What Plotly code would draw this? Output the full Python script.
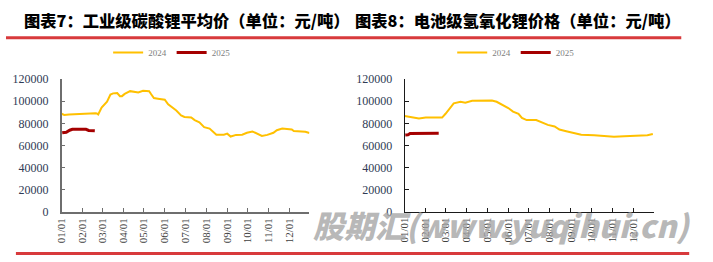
import plotly.graph_objects as go
import pandas as pd

W, H = 713, 262

# ---------------- data ----------------
months = ["01/01", "02/01", "03/01", "04/01", "05/01", "06/01",
          "07/01", "08/01", "09/01", "10/01", "11/01", "12/01"]

# Chart 7: industrial-grade lithium carbonate average price (yuan/t)
c7_2024_dates = ["01-01", "01-05", "01-12", "01-19", "01-26", "02-02", "02-09", "02-20", "02-22", "02-24",
                 "02-29", "03-08", "03-13", "03-17", "03-23", "03-27", "03-30", "04-03", "04-11", "04-18",
                 "04-23", "04-30", "05-09", "05-12", "05-16", "05-22", "06-01", "06-06", "06-13", "06-18",
                 "06-25", "06-30", "07-10", "07-15", "07-22", "07-29", "08-06", "08-10", "08-16", "08-27",
                 "09-01", "09-06", "09-14", "09-23", "09-30", "10-08", "10-15", "10-22", "10-30", "11-08",
                 "11-13", "11-21", "11-28", "12-05", "12-08", "12-17", "12-25", "12-31"]
c7_2024_vals = [88600, 87600, 88000, 88200, 88800, 89000, 89000, 89000, 88900, 88000,
                94300, 99400, 105900, 107000, 107300, 104500, 104500, 106500, 109000, 108500,
                107900, 109300, 109000, 106200, 102800, 102200, 101300, 97100, 94300, 91500,
                87200, 85800, 85200, 82900, 80900, 76600, 75300, 73200, 69800, 69800,
                70700, 68100, 69600, 69800, 71500, 72700, 71000, 68700, 69600, 71500,
                73800, 75300, 74900, 74400, 73000, 72400, 72400, 71300]
c7_2025_dates = ["01-02", "01-08", "01-13", "01-17", "01-24", "02-06", "02-10", "02-19"]
c7_2025_vals = [71500, 72000, 73800, 74600, 74700, 74600, 73600, 73300]

# Chart 8: battery-grade lithium hydroxide price (yuan/t)
c8_2024_dates = ["01-01", "01-13", "01-22", "02-01", "02-25", "03-01", "03-08", "03-13", "03-23", "03-30",
                 "04-09", "04-23", "05-08", "05-15", "05-22", "06-01", "06-08", "06-16", "06-21", "06-28",
                 "07-12", "07-20", "07-29", "08-08", "08-15", "08-25", "09-06", "09-16", "10-05", "10-20",
                 "11-03", "11-18", "12-02", "12-22", "12-30"]
c8_2024_vals = [86600, 85700, 84400, 85200, 85200, 88600, 94300, 98000, 99400, 98600,
                100300, 100600, 100600, 99400, 97200, 93800, 90600, 88600, 84900, 82900,
                82900, 80900, 78600, 77200, 74400, 72900, 71500, 69800, 69200, 68600,
                67800, 68400, 69000, 69200, 70300]
c8_2025_dates = ["01-02", "01-06", "01-09", "01-20", "02-10", "02-20"]
c8_2025_vals = [69500, 69700, 70800, 70900, 71000, 71000]

y_ticks = [0, 20000, 40000, 60000, 80000, 100000, 120000]


def to_dt(md):
    # month-day values placed on a common (2024) calendar axis
    return pd.to_datetime(["2024-" + d for d in md])


tick_dates = pd.to_datetime(["2024-%02d-01" % m for m in range(1, 13)])

C24 = "#FFC000"
C25 = "#A50000"
SERIF = "Times New Roman"
CJK = "Noto Sans CJK SC"

fig = go.Figure()
fig.add_trace(go.Scatter(x=to_dt(c7_2024_dates), y=c7_2024_vals, mode="lines", name="2024",
                         line=dict(color=C24, width=2), xaxis="x", yaxis="y", legend="legend"))
fig.add_trace(go.Scatter(x=to_dt(c7_2025_dates), y=c7_2025_vals, mode="lines", name="2025",
                         line=dict(color=C25, width=3), xaxis="x", yaxis="y", legend="legend"))
fig.add_trace(go.Scatter(x=to_dt(c8_2024_dates), y=c8_2024_vals, mode="lines", name="2024",
                         line=dict(color=C24, width=2), xaxis="x2", yaxis="y2", legend="legend2"))
fig.add_trace(go.Scatter(x=to_dt(c8_2025_dates), y=c8_2025_vals, mode="lines", name="2025",
                         line=dict(color=C25, width=3), xaxis="x2", yaxis="y2", legend="legend2"))

ytop, ybot = 76.0, 216.7
ydom = [1 - ybot / H, 1 - ytop / H]


def xaxis(dom, anchor, col, lw):
    return dict(domain=dom, anchor=anchor, type="date",
                range=[pd.Timestamp("2024-01-01"), pd.Timestamp("2024-12-31")],
                tickvals=tick_dates, ticktext=months, tickangle=-90,
                ticks="inside", ticklen=4, tickcolor=col, tickwidth=1,
                showline=True, linecolor=col, linewidth=lw, showgrid=False, zeroline=False,
                tickfont=dict(family=SERIF, size=11, color="#404040"), fixedrange=True)


def yaxis(anchor, col, lw):
    return dict(domain=ydom, anchor=anchor, range=[0, 120000], tickvals=y_ticks,
                ticktext=[str(v) for v in y_ticks],
                ticks="inside", ticklen=4, tickcolor=col, tickwidth=1,
                showline=True, linecolor=col, linewidth=lw, showgrid=False, zeroline=False,
                ticklabelstandoff=9,
                tickfont=dict(family=SERIF, size=12, color="#2f3b55"), fixedrange=True)


legend_common = dict(orientation="h", bgcolor="rgba(0,0,0,0)", itemwidth=30,
                     font=dict(family=SERIF, size=9, color="#808080"),
                     xanchor="left", yanchor="middle", tracegroupgap=0, traceorder="normal")

fig.update_layout(
    width=W, height=H, margin=dict(l=0, r=0, t=0, b=0),
    paper_bgcolor="white", plot_bgcolor="white",
    xaxis=xaxis([56 / W, 306 / W], "y", "#6e6e6e", 1.5),
    yaxis=yaxis("x", "#6e6e6e", 1.5),
    xaxis2=xaxis([402 / W, 653 / W], "y2", "#1a1a1a", 1),
    yaxis2=yaxis("x2", "#1a1a1a", 1),
    legend=dict(x=103 / W, y=1 - 48 / H, **legend_common),
    legend2=dict(x=450 / W, y=1 - 48 / H, **legend_common),
    showlegend=True,
)

RED = "#D83A3C"
shapes = [
    dict(type="line", xref="paper", yref="paper", x0=0, x1=681 / W, y0=1 - 32.5 / H, y1=1 - 32.5 / H,
         line=dict(color=RED, width=3)),
    dict(type="line", xref="paper", yref="paper", x0=10 / W, x1=689 / W, y0=1 - 260.5 / H, y1=1 - 260.5 / H,
         line=dict(color=RED, width=3)),
]
fig.update_layout(shapes=shapes)

ann = [
    dict(text="图表7：工业级碳酸锂平均价（单位：元/吨）", x=16 / W, y=1 - 14 / H,
         xref="paper", yref="paper", xanchor="left", yanchor="middle", showarrow=False,
         font=dict(family=CJK, size=16.3, color="#000000", weight=900)),
    dict(text="图表8：电池级氢氧化锂价格（单位：元/吨）", x=350 / W, y=1 - 14 / H,
         xref="paper", yref="paper", xanchor="left", yanchor="middle", showarrow=False,
         font=dict(family=CJK, size=16.3, color="#000000", weight=900)),
    dict(text="<i>股期汇(www.yuqihui.cn)</i>", x=308 / W, y=1 - 230 / H,
         xref="paper", yref="paper", xanchor="left", yanchor="middle", showarrow=False,
         font=dict(family="Noto Sans CJK SC", size=31, weight=900,
                   color="rgba(165,165,165,0.8)")),
]
fig.update_layout(annotations=ann)

fig.write_html("out.html")
